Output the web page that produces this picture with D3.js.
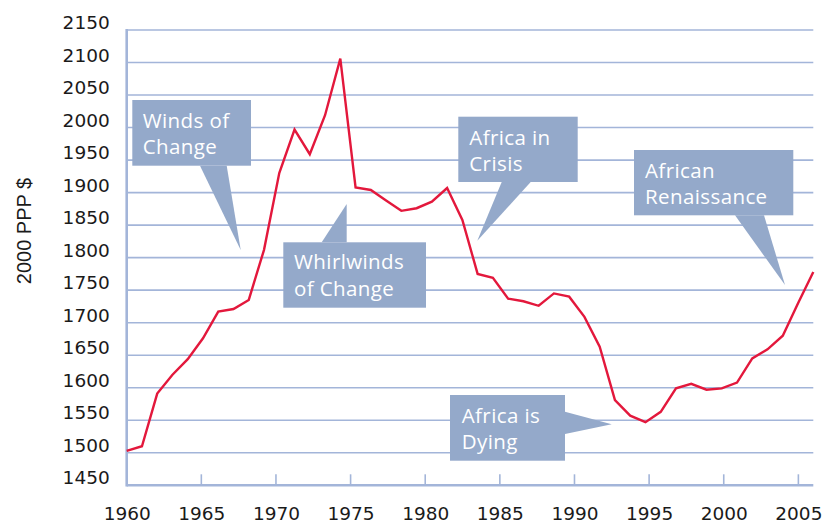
<!DOCTYPE html>
<html>
<head>
<meta charset="utf-8">
<script src="https://cdn.jsdelivr.net/npm/d3@7"></script>
<style>
  html, body { margin: 0; padding: 0; background: #ffffff; }
  svg { display: block; }
</style>
</head>
<body>
<svg id="chart" width="838" height="527"></svg>
<script>
// ---- data ----
const years = [1960,1961,1962,1963,1964,1965,1966,1967,1968,1969,
               1970,1971,1972,1973,1974,1975,1976,1977,1978,1979,
               1980,1981,1982,1983,1984,1985,1986,1987,1988,1989,
               1990,1991,1992,1993,1994,1995,1996,1997,1998,1999,
               2000,2001,2002,2003,2004,2005];
const gdpPerCapita = [1503,1510,1591,1620,1644,1676,1717,1721,1735,1812,
                      1930,1997,1959,2019,2106,1908,1904,1888,1872,1876,
                      1886,1907,1858,1775,1769,1737,1733,1726,1745,1740,
                      1709,1663,1581,1557,1547,1563,1599,1606,1597,1599,
                      1608,1645,1659,1680,1730,1778];
const yTicks = [1450,1500,1550,1600,1650,1700,1750,1800,1850,1900,1950,2000,2050,2100,2150];
const xTicks = [1960,1965,1970,1975,1980,1985,1990,1995,2000,2005];
const yTitle = "2000 PPP $";
const calloutTexts = [
  ["Winds of", "Change"],
  ["Whirlwinds", "of Change"],
  ["Africa in", "Crisis"],
  ["African", "Renaissance"],
  ["Africa is", "Dying"]
];

// ---- layout (pixels) ----
const L = 126.7, R = 813.3, T = 30, B = 485.3;
const calloutLayout = [
  {box:[132.3,100,251,165.7], ptr:[[200,165.7],[240.7,250],[226.7,165.7]], tx:142.7, ty:[128.3,154.3]},
  {box:[283.3,242.3,426,307.7], ptr:[[321.7,242.3],[346.7,204],[346.7,242.3]], tx:294, ty:[269.3,296]},
  {box:[458.3,116.7,577.7,182], ptr:[[501.7,182],[477.3,240.7],[530.7,182]], tx:469.3, ty:[145,171]},
  {box:[634,150,793.3,215.3], ptr:[[735,215.3],[785,285],[764,215.3]], tx:645, ty:[178.3,204.3]},
  {box:[450,395,565,460.7], ptr:[[565,411.7],[611.7,424.3],[565,434]], tx:461.7, ty:[423.3,449.3]}
];

const gridColor = "#a3b5d9";
const calloutFill = "#94a9ca";
const lineColor = "#e3183c";

const svg = d3.select("#chart");

const y = d3.scaleLinear().domain([1450, 2150]).range([B, T]);
const xAxisScale = d3.scaleLinear().domain([1960, 2006]).range([L, R]);
const xData = d3.scalePoint().domain(years).range([L, R]);

// gridlines
svg.append("g")
  .selectAll("line")
  .data(yTicks.filter(v => v > 1450))
  .join("line")
  .attr("x1", L).attr("x2", R)
  .attr("y1", d => y(d)).attr("y2", d => y(d))
  .attr("stroke", gridColor).attr("stroke-width", 1.6);

// y axis labels
const yAxis = svg.append("g")
  .attr("transform", `translate(${L},0)`)
  .call(d3.axisLeft(y).tickValues(yTicks).tickSize(0).tickPadding(17).tickFormat(d3.format("d")));
yAxis.select(".domain").remove();
yAxis.selectAll("text")
  .attr("dy", "-0.08em")
  .attr("font-family", "DejaVu Sans, sans-serif")
  .attr("font-size", 18.5)
  .attr("fill", "#1a1a1a");

// x axis
const xAxis = svg.append("g")
  .attr("transform", `translate(0,${B})`)
  .call(d3.axisBottom(xAxisScale).tickValues(xTicks).tickSize(0).tickPadding(22).tickFormat(d3.format("d")));
xAxis.select(".domain").remove();
xAxis.selectAll("text")
  .attr("font-family", "DejaVu Sans, sans-serif")
  .attr("font-size", 18.5)
  .attr("fill", "#1a1a1a");
// inward ticks
svg.append("g")
  .selectAll("line")
  .data(xTicks.filter(v => v > 1960))
  .join("line")
  .attr("x1", d => xAxisScale(d)).attr("x2", d => xAxisScale(d))
  .attr("y1", B).attr("y2", B - 11)
  .attr("stroke", gridColor).attr("stroke-width", 1.6);

// axis lines
svg.append("line")
  .attr("x1", L).attr("x2", R).attr("y1", B).attr("y2", B)
  .attr("stroke", gridColor).attr("stroke-width", 2.6);
svg.append("line")
  .attr("x1", L).attr("x2", L).attr("y1", T - 1).attr("y2", B + 1.3)
  .attr("stroke", gridColor).attr("stroke-width", 2.6);

// y title
svg.append("text")
  .attr("transform", `translate(31,231) rotate(-90)`)
  .attr("text-anchor", "middle")
  .attr("font-family", "Liberation Sans, Arial, sans-serif")
  .attr("font-size", 20)
  .attr("fill", "#1a1a1a")
  .text(yTitle);

// data line
const line = d3.line()
  .x((d, i) => xData(years[i]))
  .y(d => y(d));
svg.append("path")
  .datum(gdpPerCapita)
  .attr("d", line)
  .attr("fill", "none")
  .attr("stroke", lineColor)
  .attr("stroke-width", 2.4)
  .attr("stroke-linejoin", "miter");

// callouts
const cg = svg.append("g");
calloutLayout.forEach((c, i) => {
  const [x0, y0, x1, y1] = c.box;
  cg.append("rect")
    .attr("x", x0).attr("y", y0).attr("width", x1 - x0).attr("height", y1 - y0)
    .attr("fill", calloutFill);
  cg.append("path")
    .attr("d", "M" + c.ptr.map(p => p.join(",")).join("L") + "Z")
    .attr("fill", calloutFill);
  calloutTexts[i].forEach((t, j) => {
    cg.append("text")
      .attr("x", c.tx).attr("y", c.ty[j])
      .attr("font-family", "Open Sans, sans-serif")
      .attr("font-size", 20.5)
      .attr("letter-spacing", 0.4)
      .attr("fill", "#ffffff")
      .text(t);
  });
});
</script>
</body>
</html>
